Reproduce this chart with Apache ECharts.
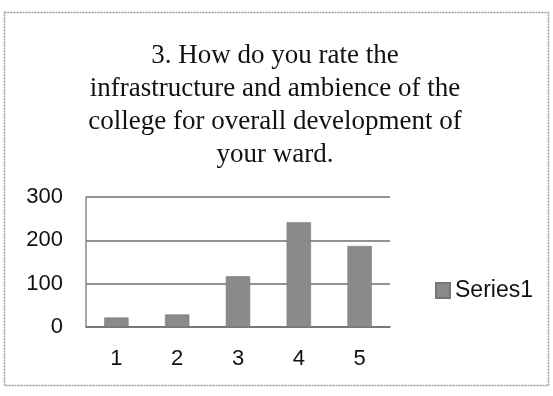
<!DOCTYPE html>
<html>
<head>
<meta charset="utf-8">
<script src="https://cdn.jsdelivr.net/npm/echarts@6/dist/echarts.min.js"></script>
<style>
  html, body { margin: 0; padding: 0; background: #fff; }
  #chart { width: 553px; height: 396px; }
</style>
</head>
<body>
<div id="chart"></div>
<script>
// Survey responses: rating scale 1-5 and count of respondents per rating
const categories = ['1', '2', '3', '4', '5'];
const series1 = [22, 29, 117, 242, 187];
const yTicks = [0, 100, 200, 300];
const titleLines = [
  '3. How do you rate the',
  'infrastructure and ambience of the',
  'college for overall development of',
  'your ward.'
];

const chart = echarts.init(document.getElementById('chart'));
chart.setOption({
  backgroundColor: '#ffffff',
  animation: false,
  title: {
    text: titleLines.join('\n'),
    left: 270,
    top: 34,
    textAlign: 'center',
    textStyle: {
      fontFamily: '"Liberation Serif", "Times New Roman", serif',
      fontSize: 27,
      fontWeight: 'normal',
      color: '#111',
      lineHeight: 33
    }
  },
  graphic: [{
    type: 'rect',
    shape: { x: 4.5, y: 12.5, width: 544, height: 373 },
    style: { fill: 'none', stroke: '#9a9a9a', lineWidth: 1.5, lineDash: [2, 1] },
    z: -1
  }],
  legend: {
    data: ['Series1'],
    left: 430,
    top: 274,
    icon: 'rect',
    itemWidth: 14,
    itemHeight: 15,
    itemGap: 6,
    textStyle: {
      fontFamily: '"Liberation Sans", Arial, sans-serif',
      fontSize: 23,
      color: '#111'
    }
  },
  grid: { left: 86, right: 163, top: 197, height: 130, containLabel: false },
  xAxis: {
    type: 'category',
    data: categories,
    axisLine: { show: true, lineStyle: { color: '#707070', width: 1.5 } },
    axisTick: { show: false },
    axisLabel: {
      margin: 21,
      fontFamily: '"Liberation Sans", Arial, sans-serif',
      fontSize: 22,
      color: '#111'
    }
  },
  yAxis: {
    type: 'value',
    min: yTicks[0],
    max: yTicks[yTicks.length - 1],
    interval: 100,
    axisLine: { show: true, lineStyle: { color: '#8a8a8a', width: 1.5 } },
    axisTick: { show: false },
    splitLine: { lineStyle: { color: '#6e6e6e', width: 1.5 } },
    axisLabel: {
      margin: 23,
      fontFamily: '"Liberation Sans", Arial, sans-serif',
      fontSize: 22,
      color: '#111'
    }
  },
  series: [{
    name: 'Series1',
    type: 'bar',
    data: series1,
    barCategoryGap: '60%',
    itemStyle: { color: '#8a8a8a', borderColor: '#777', borderWidth: 0.5 }
  }]
});
</script>
</body>
</html>
